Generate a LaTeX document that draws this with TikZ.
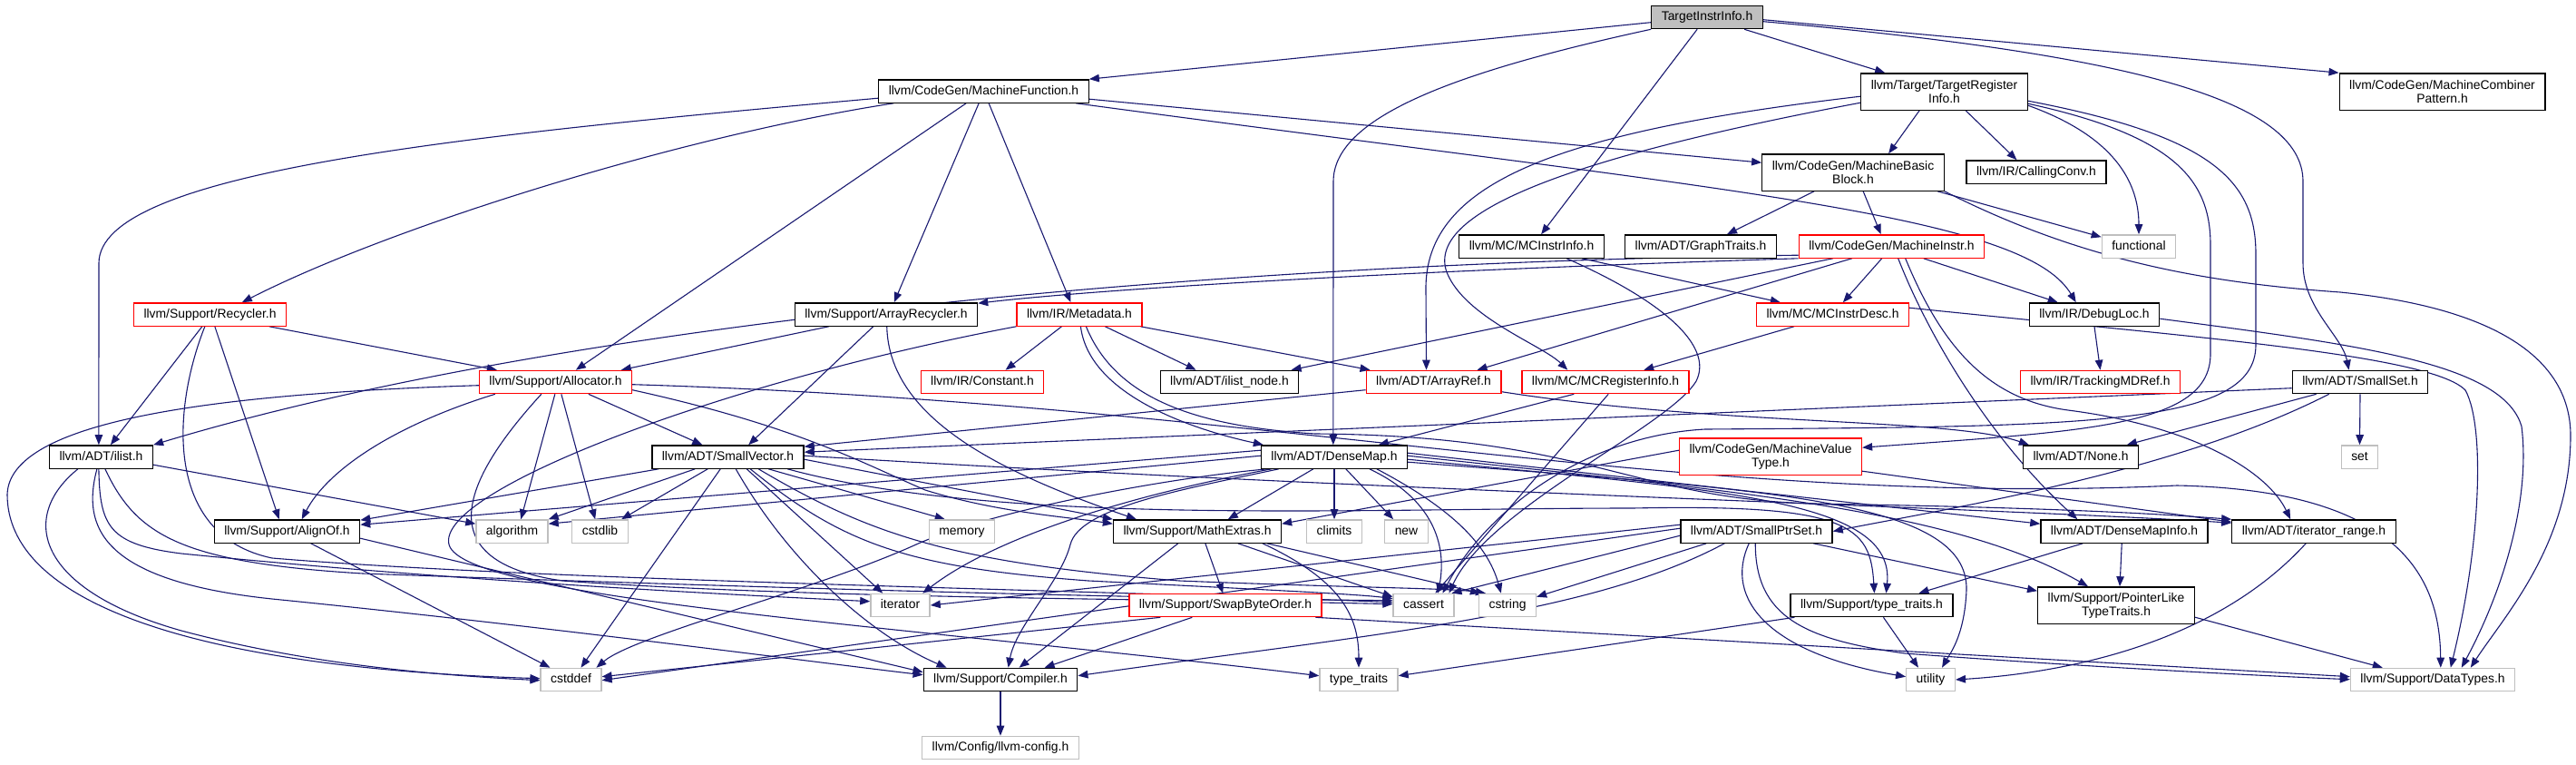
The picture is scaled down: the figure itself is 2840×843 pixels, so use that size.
\documentclass[tikz,border=0pt]{standalone}
\usepackage{fontspec}
\setmainfont{Liberation Sans}
\usetikzlibrary{arrows.meta,backgrounds}
\definecolor{linkblue}{HTML}{191970}
\definecolor{sysgray}{HTML}{BFBFBF}
\newcommand{\graphfont}{\fontsize{13.9pt}{15pt}\selectfont}
\tikzset{
  filebase/.style={line width=1.3pt, fill=white, font=\graphfont, inner xsep=11pt},
  file/.style={filebase, draw=black, inner ysep=0pt, minimum height=25.3pt, text height=10.5pt, text depth=3pt},
  filered/.style={file, draw=red},
  sysfile/.style={file, draw=sysgray},
  filetwo/.style={filebase, draw=black, align=center, inner ysep=4.7pt, minimum height=40.3pt},
  fileredtwo/.style={filetwo, draw=red},
  dep/.style={draw=linkblue, line width=1.1pt, -{Triangle[length=11pt,width=8.5pt]}}
}
\begin{document}
\begin{tikzpicture}[x=1pt,y=-1pt]
    \useasboundingbox (0,0) rectangle (2840,843);
    % header files, one row after the other
    \node[file, fill=sysgray] (tii) at (1882,19) {TargetInstrInfo.h};
    \node[file] (mf) at (1084.5,100.5) {llvm/CodeGen/MachineFunction.h};
    \node[filetwo] (tri) at (2143.5,101) {llvm/Target/TargetRegister\\Info.h};
    \node[filetwo] (mcp) at (2692.5,101) {llvm/CodeGen/MachineCombiner\\Pattern.h};
    \node[filetwo] (mbb) at (2043,190) {llvm/CodeGen/MachineBasic\\Block.h};
    \node[file] (cconv) at (2245,189.5) {llvm/IR/CallingConv.h};
    \node[file] (mcii) at (1688.5,271.5) {llvm/MC/MCInstrInfo.h};
    \node[file] (graph) at (1875,271.5) {llvm/ADT/GraphTraits.h};
    \node[filered] (mi) at (2085.5,271.5) {llvm/CodeGen/MachineInstr.h};
    \node[sysfile] (func) at (2358,271.5) {functional};
    \node[filered] (recyc) at (231.5,346.5) {llvm/Support/Recycler.h};
    \node[file] (arec) at (977,346.5) {llvm/Support/ArrayRecycler.h};
    \node[filered] (meta) at (1190,346.5) {llvm/IR/Metadata.h};
    \node[filered] (mcid) at (2020.5,346.5) {llvm/MC/MCInstrDesc.h};
    \node[file] (dloc) at (2309,346.5) {llvm/IR/DebugLoc.h};
    \node[filered] (alloc) at (612.5,421) {llvm/Support/Allocator.h};
    \node[filered] (const) at (1083,421) {llvm/IR/Constant.h};
    \node[file] (inode) at (1355.5,421) {llvm/ADT/ilist\_node.h};
    \node[filered] (aref) at (1580.5,421) {llvm/ADT/ArrayRef.h};
    \node[filered] (mcreg) at (1770,421) {llvm/MC/MCRegisterInfo.h};
    \node[filered] (track) at (2315.5,421) {llvm/IR/TrackingMDRef.h};
    \node[file] (sset) at (2602,421) {llvm/ADT/SmallSet.h};
    \node[file] (ilist) at (111.5,503.5) {llvm/ADT/ilist.h};
    \node[file] (svec) at (802.5,503.5) {llvm/ADT/SmallVector.h};
    \node[file] (dmap) at (1471,503.5) {llvm/ADT/DenseMap.h};
    \node[fileredtwo] (mvt) at (1952,503) {llvm/CodeGen/MachineValue\\Type.h};
    \node[file] (none) at (2294,503.5) {llvm/ADT/None.h};
    \node[sysfile] (set) at (2601.5,503.5) {set};
    \node[file] (align) at (316.5,585.5) {llvm/Support/AlignOf.h};
    \node[sysfile] (algo) at (564.5,585.5) {algorithm};
    \node[sysfile] (cstdlib) at (661.5,585.5) {cstdlib};
    \node[sysfile] (memory) at (1060.5,585.5) {memory};
    \node[file] (mathx) at (1320,585.5) {llvm/Support/MathExtras.h};
    \node[sysfile] (climits) at (1471,585.5) {climits};
    \node[sysfile] (new) at (1550.5,585.5) {new};
    \node[file] (sptr) at (1936.5,585.5) {llvm/ADT/SmallPtrSet.h};
    \node[file] (dmi) at (2342,585.5) {llvm/ADT/DenseMapInfo.h};
    \node[file] (irange) at (2551,585.5) {llvm/ADT/iterator\_range.h};
    \node[sysfile] (iter) at (992.5,667) {iterator};
    \node[filered] (swap) at (1351,667) {llvm/Support/SwapByteOrder.h};
    \node[sysfile] (cassert) at (1569.5,667) {cassert};
    \node[sysfile] (cstring) at (1662,667) {cstring};
    \node[file] (stt) at (2063.5,667) {llvm/Support/type\_traits.h};
    \node[filetwo] (plike) at (2333,667) {llvm/Support/PointerLike\\TypeTraits.h};
    \node[sysfile] (cstddef) at (629.5,749) {cstddef};
    \node[file] (compiler) at (1103,749) {llvm/Support/Compiler.h};
    \node[sysfile] (tt) at (1498,749) {type\_traits};
    \node[sysfile] (utility) at (2128.5,749) {utility};
    \node[sysfile] (dtypes) at (2682,749) {llvm/Support/DataTypes.h};
    \node[sysfile] (config) at (1103,824) {llvm/Config/llvm-config.h};

    \begin{scope}[on background layer]
    % TargetInstrInfo.h
    \draw[dep] ([yshift=-19pt]tii.north west) -- (mf.north east);
    \draw[dep] ([xshift=103pt]tii.south west) -- ([xshift=27pt]tri.north west);
    \draw[dep] ([yshift=-16pt]tii.north east) -- (mcp.north west);
    \draw[dep] ([xshift=51pt]tii.south west) -- ([xshift=91pt]mcii.north west);
    \draw[dep] (tii.south west) .. controls (1600,80) and (1470,130) .. (1470,200) -- ([xshift=80pt]dmap.north west);
    \draw[dep] ([yshift=-18pt]tii.north east) .. controls (2350,60) and (2539,110) .. (2539,200) -- (2539,290) .. controls (2539,340) and (2582,370) .. ([xshift=63pt]sset.north west);
    % MachineFunction.h
    \draw[dep] ([yshift=-21pt]mf.north west) .. controls (500,150) and (109,190) .. (109,290) -- ([xshift=55pt]ilist.north west);
    \draw[dep] ([xshift=17pt]mf.south west) .. controls (750,150) and (430,250) .. ([xshift=120pt]recyc.north west);
    \draw[dep] ([xshift=97pt]mf.south west) -- ([xshift=107pt]alloc.north west);
    \draw[dep] ([xshift=111pt]mf.south west) -- ([xshift=110pt]arec.north west);
    \draw[dep] ([xshift=122pt]mf.south west) -- ([xshift=60pt]meta.north west);
    \draw[dep] ([yshift=-22pt]mf.north east) -- ([yshift=-10pt]mbb.north west);
    \draw[dep] ([xshift=218pt]mf.south west) .. controls (1900,210) and (2230,235) .. ([xshift=52pt]dloc.north west);
    % TargetRegisterInfo.h
    \draw[dep] ([xshift=65pt]tri.south west) -- ([xshift=140pt]mbb.north west);
    \draw[dep] ([xshift=116pt]tri.south west) -- ([xshift=56pt]cconv.north west);
    \draw[dep] ([yshift=-36pt]tri.north east) .. controls (2330,150) and (2358,200) .. (func.north);
    \draw[dep] ([yshift=-26pt]tri.north west) .. controls (1720,145) and (1570,200) .. (1572,320) -- ([xshift=67pt]aref.north west);
    \draw[dep] ([yshift=-33pt]tri.north west) .. controls (1750,170) and (1570,230) .. (1595,300) .. controls (1615,350) and (1700,380) .. ([xshift=51pt]mcreg.north west);
    \draw[dep] ([yshift=-34pt]tri.north east) .. controls (2400,150) and (2437,200) .. (2437,270) -- (2437,390) .. controls (2437,470) and (2300,475) .. ([yshift=-11pt]mvt.north east);
    \draw[dep] ([yshift=-31pt]tri.north east) .. controls (2440,150) and (2487,200) .. (2487,280) -- (2487,380) .. controls (2487,470) and (2300,470) .. (1880,473) .. controls (1750,480) and (1640,560) .. ([xshift=55pt]cassert.north west);
    % MachineBasicBlock.h
    \draw[dep] ([xshift=58pt]mbb.south west) -- ([xshift=113pt]graph.north west);
    \draw[dep] ([xshift=112pt]mbb.south west) -- ([xshift=91pt]mi.north west);
    \draw[dep] ([xshift=194pt]mbb.south west) -- ([yshift=-3pt]func.north west);
    \draw[dep] (mbb.south east) .. controls (2300,290) and (2440,312) .. (2580,322) .. controls (2760,340) and (2834,400) .. (2834,480) .. controls (2834,600) and (2760,680) .. ([xshift=133pt]dtypes.north west);
    % MCInstrInfo.h
    \draw[dep] ([xshift=136pt]mcii.south west) -- ([xshift=27pt]mcid.north west);
    \draw[dep] ([xshift=119pt]mcii.south west) .. controls (1830,330) and (1890,380) .. (1870,420) .. controls (1840,470) and (1640,560) .. ([xshift=62pt]cassert.north west);
    % MachineInstr.h
    \draw[dep] ([yshift=-23pt]mi.north west) .. controls (1300,290) and (600,360) .. (ilist.north east);
    \draw[dep] (mi.south west) .. controls (1500,300) and (1200,320) .. ([yshift=-1pt]arec.north east);
    \draw[dep] ([xshift=38pt]mi.south west) -- ([xshift=145pt]inode.north west);
    \draw[dep] ([xshift=59pt]mi.south west) -- ([xshift=123pt]aref.north west);
    \draw[dep] ([xshift=92pt]mi.south west) -- ([xshift=96pt]mcid.north west);
    \draw[dep] ([xshift=138pt]mi.south west) -- ([xshift=32pt]dloc.north west);
    \draw[dep] ([xshift=110pt]mi.south west) .. controls (2130,380) and (2200,490) .. ([xshift=41pt]dmi.north west);
    \draw[dep] ([xshift=118pt]mi.south west) .. controls (2140,380) and (2190,440) .. (2280,452) .. controls (2420,470) and (2500,520) .. ([xshift=65pt]irange.north west);
    % Recycler.h
    \draw[dep] ([xshift=76pt]recyc.south west) -- ([xshift=68pt]ilist.north west);
    \draw[dep] ([xshift=90pt]recyc.south west) -- ([xshift=72pt]align.north west);
    \draw[dep] ([xshift=150pt]recyc.south west) -- ([xshift=20pt]alloc.north west);
    \draw[dep] ([xshift=79pt]recyc.south west) .. controls (190,450) and (180,590) .. (300,615) .. controls (600,640) and (1200,650) .. ([yshift=-10pt]cassert.north west);
    % ArrayRecycler.h
    \draw[dep] ([xshift=38pt]arec.south west) -- ([xshift=157pt]alloc.north west);
    \draw[dep] ([xshift=87pt]arec.south west) -- ([xshift=107pt]svec.north west);
    \draw[dep] ([xshift=102pt]arec.south west) .. controls (980,460) and (1100,520) .. ([xshift=26pt]mathx.north west);
    % Metadata.h
    \draw[dep] ([xshift=50pt]meta.south west) -- ([xshift=94pt]const.north west);
    \draw[dep] ([xshift=98pt]meta.south west) -- ([xshift=40pt]inode.north west);
    \draw[dep] ([xshift=137pt]meta.south west) -- ([xshift=5pt]aref.north west);
    \draw[dep] ([xshift=71pt]meta.south west) .. controls (1200,430) and (1300,470) .. ([xshift=3pt]dmap.north west);
    \draw[dep] ([xshift=77pt]meta.south west) .. controls (1230,440) and (1320,470) .. (1450,478) .. controls (1750,480) and (1800,550) .. (2000,555) .. controls (2300,560) and (2400,568) .. (irange.north west);
    \draw[dep] (meta.south west) .. controls (800,420) and (480,540) .. (495,600) .. controls (510,660) and (1000,690) .. ([yshift=-9pt]tt.north west);
    % Allocator.h
    \draw[dep] ([yshift=-17pt]alloc.north west) .. controls (200,435) and (10,470) .. (8,545) .. controls (8,660) and (200,735) .. ([yshift=-12pt]cstddef.north west);
    \draw[dep] ([xshift=18pt]alloc.south west) .. controls (430,470) and (360,520) .. ([xshift=97pt]align.north west);
    \draw[dep] ([xshift=69pt]alloc.south west) .. controls (500,540) and (480,620) .. (620,640) .. controls (900,660) and (1300,660) .. ([yshift=-12pt]cassert.north west);
    \draw[dep] ([xshift=84pt]alloc.south west) -- ([xshift=50pt]algo.north west);
    \draw[dep] ([xshift=91pt]alloc.south west) -- ([xshift=26pt]cstdlib.north west);
    \draw[dep] ([xshift=121pt]alloc.south west) -- ([xshift=56pt]svec.north west);
    \draw[dep] ([yshift=-16pt]alloc.north east) .. controls (1400,445) and (1850,560) .. (2400,535) .. controls (2650,540) and (2690,640) .. ([xshift=100pt]dtypes.north west);
    \draw[dep] ([yshift=-22pt]alloc.north east) .. controls (880,470) and (950,510) .. (1020,540) .. controls (1100,565) and (1180,570) .. ([yshift=-5pt]mathx.north west);
    % ilist.h
    \draw[dep] ([xshift=32pt]ilist.south west) .. controls (20,570) and (40,650) .. (200,695) .. controls (350,735) and (500,745) .. ([yshift=-14pt]cstddef.north west);
    \draw[dep] ([xshift=53pt]ilist.south west) .. controls (90,580) and (110,640) .. (300,660) .. controls (600,690) and (900,730) .. ([yshift=-8pt]compiler.north west);
    \draw[dep] ([xshift=55pt]ilist.south west) .. controls (110,580) and (120,600) .. (200,610) .. controls (500,640) and (800,655) .. ([yshift=-9pt]iter.north west);
    \draw[dep] ([xshift=62pt]ilist.south west) .. controls (150,590) and (200,620) .. (400,632) .. controls (900,650) and (1300,660) .. ([yshift=-8pt]cassert.north west);
    \draw[dep] ([yshift=-22pt]ilist.north east) -- ([yshift=-5pt]algo.north west);
    % AlignOf.h
    \draw[dep] ([xshift=107pt]align.south west) -- ([xshift=11pt]cstddef.north west);
    \draw[dep] ([yshift=-21pt]align.north east) -- ([yshift=-5pt]compiler.north west);
    % SmallVector.h
    \draw[dep] ([xshift=8pt]svec.south west) -- ([yshift=-1pt]align.north east);
    \draw[dep] ([xshift=48pt]svec.south west) -- (algo.north east);
    \draw[dep] ([xshift=62pt]svec.south west) -- ([xshift=55pt]cstdlib.north west);
    \draw[dep] ([xshift=76pt]svec.south west) -- ([xshift=45pt]cstddef.north west);
    \draw[dep] ([xshift=93pt]svec.south west) .. controls (870,620) and (960,700) .. ([xshift=26pt]compiler.north west);
    \draw[dep] ([xshift=105pt]svec.south west) -- ([xshift=14pt]iter.north west);
    \draw[dep] ([xshift=109pt]svec.south west) .. controls (930,600) and (1000,625) .. (1200,640) .. controls (1400,650) and (1500,655) .. ([yshift=-6pt]cassert.north west);
    \draw[dep] ([xshift=118pt]svec.south west) .. controls (960,590) and (1050,620) .. (1300,640) .. controls (1500,648) and (1600,648) .. ([xshift=8pt]cstring.north west);
    \draw[dep] ([xshift=129pt]svec.south west) -- ([xshift=18pt]memory.north west);
    \draw[dep] ([xshift=150pt]svec.south west) .. controls (1100,580) and (1500,560) .. (1800,560) .. controls (2040,555) and (2062,580) .. ([xshift=93pt]stt.north west);
    \draw[dep] ([yshift=-16pt]svec.north east) -- (mathx.north west);
    \draw[dep] ([yshift=-12pt]svec.north east) .. controls (1500,540) and (2200,560) .. ([yshift=-4pt]irange.north west);
    % DenseMap.h
    \draw[dep] ([yshift=-6pt]dmap.north west) -- ([yshift=-6pt]align.north east);
    \draw[dep] ([yshift=-12pt]dmap.north west) -- ([yshift=-5pt]algo.north east);
    \draw[dep] ([xshift=8pt]dmap.south west) .. controls (1300,525) and (1100,560) .. (1010,600) .. controls (900,650) and (700,700) .. ([xshift=62pt]cstddef.north west);
    \draw[dep] ([xshift=12pt]dmap.south west) .. controls (1250,545) and (1100,590) .. ([xshift=58pt]iter.north west);
    \draw[dep] ([xshift=20pt]dmap.south west) .. controls (1300,540) and (1190,560) .. (1180,600) .. controls (1170,640) and (1120,690) .. ([xshift=94pt]compiler.north west);
    \draw[dep] ([xshift=58pt]dmap.south west) -- ([xshift=127pt]mathx.north west);
    \draw[dep] (dmap.south) -- (climits.north);
    \draw[dep] ([xshift=94pt]dmap.south west) -- ([xshift=10pt]new.north west);
    \draw[dep] ([xshift=120pt]dmap.south west) .. controls (1580,550) and (1595,600) .. ([xshift=50pt]cassert.north west);
    \draw[dep] ([xshift=128pt]dmap.south west) .. controls (1600,560) and (1640,600) .. ([xshift=25pt]cstring.north west);
    \draw[dep] ([yshift=-9pt]dmap.north east) -- ([yshift=-5pt]dmi.north west);
    \draw[dep] ([yshift=-12pt]dmap.north east) .. controls (1900,540) and (2150,560) .. ([xshift=56pt]plike.north west);
    \draw[dep] ([yshift=-16pt]dmap.north east) .. controls (1900,540) and (2090,550) .. ([xshift=106pt]stt.north west);
    \draw[dep] ([yshift=-19pt]dmap.north east) .. controls (1950,540) and (2170,550) .. (2168,650) .. controls (2166,700) and (2150,720) .. ([xshift=40pt]utility.north west);
    % MathExtras.h
    \draw[dep] ([xshift=72pt]mathx.south west) -- ([xshift=106pt]compiler.north west);
    \draw[dep] ([xshift=102pt]mathx.south west) -- ([xshift=104pt]swap.north west);
    \draw[dep] ([xshift=138pt]mathx.south west) -- ([yshift=-4pt]cassert.north west);
    \draw[dep] ([xshift=170pt]mathx.south west) -- ([xshift=2pt]cstring.north west);
    \draw[dep] ([xshift=165pt]mathx.south west) .. controls (1480,640) and (1498,680) .. (tt.north);
    % SwapByteOrder.h
    \draw[dep] ([xshift=35pt]swap.south west) -- ([yshift=-10pt]cstddef.north east);
    \draw[dep] ([xshift=70pt]swap.south west) -- ([xshift=134pt]compiler.north west);
    \draw[dep] ([xshift=206pt]swap.south west) -- ([yshift=-10pt]dtypes.north west);
    % SmallPtrSet.h
    \draw[dep] ([yshift=-6pt]sptr.north west) -- (iter.east);
    \draw[dep] ([yshift=-10pt]sptr.north west) -- ([yshift=-14pt]cstddef.north east);
    \draw[dep] ([yshift=-18pt]sptr.north west) -- ([xshift=65pt]cassert.north west);
    \draw[dep] ([xshift=29pt]sptr.south west) -- ([yshift=-4pt]cstring.north east);
    \draw[dep] ([xshift=49pt]sptr.south west) .. controls (1750,680) and (1500,700) .. ([yshift=-9pt]compiler.north east);
    \draw[dep] ([xshift=76pt]sptr.south west) .. controls (1900,660) and (1950,720) .. ([yshift=-10pt]utility.north west);
    \draw[dep] ([xshift=83pt]sptr.south west) .. controls (1935,680) and (1990,705) .. (2100,720) .. controls (2300,735) and (2500,745) .. ([yshift=-13pt]dtypes.north west);
    \draw[dep] ([xshift=147pt]sptr.south west) -- ([yshift=-5pt]plike.north west);
    % SmallSet.h
    \draw[dep] ([yshift=-20pt]sset.north west) -- ([yshift=-8pt]svec.north east);
    \draw[dep] ([xshift=27pt]sset.south west) -- ([xshift=115pt]none.north west);
    \draw[dep] ([xshift=41pt]sset.south west) .. controls (2400,520) and (2150,560) .. (sptr.east);
    \draw[dep] (sset.south) -- (set.north);
    % the rest
    \draw[dep] ([yshift=-22pt]aref.north west) -- ([yshift=-2pt]svec.north east);
    \draw[dep] ([yshift=-24pt]aref.north east) .. controls (1900,470) and (2150,460) .. ([xshift=7pt]none.north west);
    \draw[dep] ([xshift=58pt]mcreg.south west) -- ([xshift=130pt]dmap.north west);
    \draw[dep] ([xshift=96pt]mcreg.south west) -- ([xshift=47pt]cassert.north west);
    \draw[dep] ([xshift=42pt]mcid.south west) -- ([xshift=135pt]mcreg.north west);
    \draw[dep] ([yshift=-6pt]mcid.north east) .. controls (2400,370) and (2680,390) .. (2718,430) .. controls (2740,470) and (2735,600) .. ([xshift=111pt]dtypes.north west);
    \draw[dep] (dloc.south) -- (track.north);
    \draw[dep] ([yshift=-18pt]dloc.north east) .. controls (2600,380) and (2760,400) .. (2780,470) .. controls (2790,550) and (2760,650) .. ([xshift=123pt]dtypes.north west);
    \draw[dep] ([yshift=-14pt]mvt.north west) -- ([yshift=-5pt]mathx.north east);
    \draw[dep] ([yshift=-37pt]mvt.north east) -- ([yshift=-3pt]irange.north west);
    \draw[dep] ([xshift=47pt]dmi.south west) -- ([xshift=142pt]stt.north west);
    \draw[dep] ([xshift=90pt]dmi.south west) -- ([xshift=91pt]plike.north west);
    \draw[dep] ([yshift=-34pt]plike.north east) -- ([xshift=36pt]dtypes.north west);
    \draw[dep] ([xshift=5pt]stt.south west) -- ([yshift=-9pt]tt.north east);
    \draw[dep] ([xshift=103pt]stt.south west) -- ([xshift=14pt]utility.north west);
    \draw[dep] ([xshift=82pt]irange.south west) .. controls (2450,700) and (2300,740) .. (utility.east);
    \draw[dep] (compiler.south) -- (config.north);
    \end{scope}
\end{tikzpicture}
\end{document}
